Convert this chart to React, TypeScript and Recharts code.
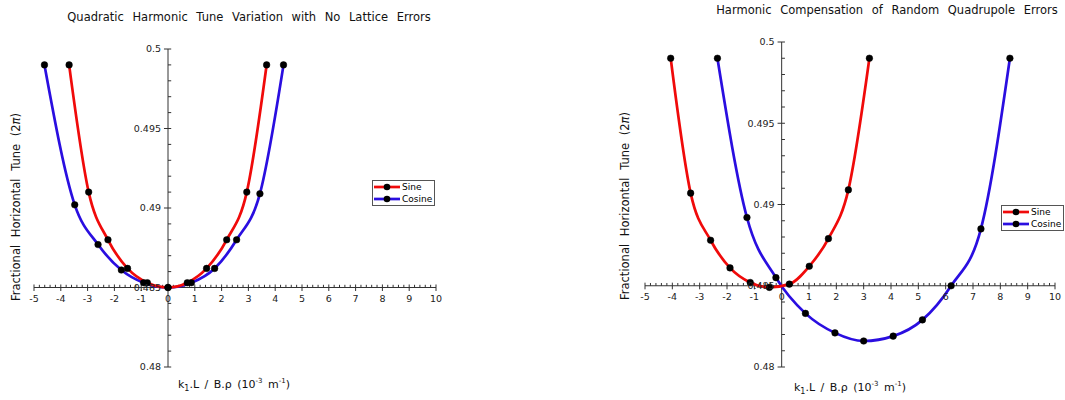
import React from "react";
import {
  LineChart,
  Line,
  XAxis,
  YAxis,
  ReferenceLine,
  ReferenceDot
} from "recharts";

// left panel: no lattice errors
const leftSineX = [-3.69, -2.96, -2.24, -1.51, -0.77, 0, 0.72, 1.44, 2.19, 2.94, 3.68];
const leftSineY = [0.499, 0.491, 0.488, 0.4862, 0.4853, 0.485, 0.4853, 0.4862, 0.488, 0.491, 0.499];
const leftCosX = [-4.61, -3.48, -2.61, -1.74, -0.91, 0, 0.87, 1.74, 2.56, 3.43, 4.31];
const leftCosY = [0.499, 0.4902, 0.4877, 0.4861, 0.4853, 0.485, 0.4853, 0.4862, 0.488, 0.4909, 0.499];

// right panel: random quadrupole errors
const rightSineX = [-4.06, -3.33, -2.6, -1.89, -1.15, -0.45, 0.28, 1.01, 1.71, 2.44, 3.21];
const rightSineY = [0.499, 0.4907, 0.4878, 0.4861, 0.4852, 0.4849, 0.4851, 0.4862, 0.4879, 0.4909, 0.499];
const rightCosX = [-2.35, -1.27, -0.21, 0.87, 1.95, 3.0, 4.08, 5.15, 6.2, 7.29, 8.35];
const rightCosY = [0.499, 0.4892, 0.4855, 0.4833, 0.4821, 0.4816, 0.4819, 0.4829, 0.485, 0.4885, 0.499];

const seriesNames = ["Sine", "Cosine"];
const xTicks = [-5, -4, -3, -2, -1, 0, 1, 2, 3, 4, 5, 6, 7, 8, 9, 10];
const yTicks = [0.48, 0.485, 0.49, 0.495, 0.5];
const yTickLabels = ["0.48", "0.485", "0.49", "0.495", "0.5"];

const X_CROSS = 0;
const Y_CROSS = 0.485;
const RED = "#f00a0a";
const BLUE = "#2a0ee0";
const AXIS = "#333";
const FONT = "'DejaVu Sans', sans-serif";

const toPoints = (xs: number[], ys: number[]) => xs.map((x, i) => ({ x, y: ys[i] }));

const xMinor: number[] = [];
for (let i = 0; i < xTicks.length - 1; i++) {
  for (let k = 1; k < 5; k++) xMinor.push(+(xTicks[i] + k * 0.2).toFixed(2));
}
const yMinor: number[] = [];
for (let i = 0; i < yTicks.length - 1; i++) {
  for (let k = 1; k < 5; k++) yMinor.push(+(yTicks[i] + k * 0.001).toFixed(4));
}

const dotStyle = { r: 3.3, fill: "#000", stroke: "#000", strokeWidth: 0.5 };

type PanelProps = {
  width: number;
  margin: { top: number; right: number; bottom: number; left: number };
  sine: { x: number; y: number }[];
  cosine: { x: number; y: number }[];
};

const Panel = ({ width, margin, sine, cosine }: PanelProps) => (
  <LineChart width={width} height={400} margin={margin}>
    <XAxis dataKey="x" type="number" domain={[-5, 10]} hide allowDataOverflow />
    <YAxis type="number" domain={[0.48, 0.5]} hide allowDataOverflow />
    <ReferenceLine y={Y_CROSS} stroke={AXIS} strokeWidth={1} />
    <ReferenceLine x={X_CROSS} stroke={AXIS} strokeWidth={1} />
    {xTicks.map((v) => (
      <ReferenceLine
        key={`xt${v}`}
        segment={[{ x: v, y: Y_CROSS - 0.00022 }, { x: v, y: Y_CROSS + 0.00019 }]}
        stroke={AXIS}
      />
    ))}
    {xMinor.map((v) => (
      <ReferenceLine
        key={`xm${v}`}
        segment={[{ x: v, y: Y_CROSS }, { x: v, y: Y_CROSS + 0.00017 }]}
        stroke={AXIS}
      />
    ))}
    {yTicks.map((v) => (
      <ReferenceLine
        key={`yt${v}`}
        segment={[{ x: X_CROSS - 0.15, y: v }, { x: X_CROSS + 0.12, y: v }]}
        stroke={AXIS}
      />
    ))}
    {yMinor.map((v) => (
      <ReferenceLine
        key={`ym${v}`}
        segment={[{ x: X_CROSS, y: v }, { x: X_CROSS + 0.12, y: v }]}
        stroke={AXIS}
      />
    ))}
    {xTicks.map((v) => (
      <ReferenceDot
        key={`xl${v}`}
        x={v}
        y={Y_CROSS}
        r={0}
        fill="none"
        stroke="none"
        label={{ value: String(v), position: "bottom", offset: 8, fontSize: 9.5, fill: "#222", fontFamily: FONT }}
      />
    ))}
    {yTicks.map((v, i) => (
      <ReferenceDot
        key={`yl${v}`}
        x={X_CROSS}
        y={v}
        r={0}
        fill="none"
        stroke="none"
        label={{ value: yTickLabels[i], position: "left", offset: 7, fontSize: 9.5, fill: "#222", fontFamily: FONT }}
      />
    ))}
    <Line
      data={cosine}
      dataKey="y"
      type="monotone"
      stroke={BLUE}
      strokeWidth={2.7}
      dot={dotStyle}
      isAnimationActive={false}
    />
    <Line
      data={sine}
      dataKey="y"
      type="monotone"
      stroke={RED}
      strokeWidth={2.7}
      dot={dotStyle}
      isAnimationActive={false}
    />
  </LineChart>
);

const LegendBox = ({ left, top }: { left: number; top: number }) => (
  <div
    style={{
      position: "absolute",
      left,
      top,
      border: "1px solid #555",
      background: "#fff",
      padding: "0px 2px 0px 1px",
      fontFamily: FONT,
      fontSize: 9,
      lineHeight: "12px"
    }}
  >
    {seriesNames.map((name, i) => (
      <div key={name} style={{ display: "flex", alignItems: "center", whiteSpace: "nowrap" }}>
        <svg width={26} height={12} style={{ marginRight: 2 }}>
          <line x1={0} y1={6} x2={26} y2={6} stroke={i === 0 ? RED : BLUE} strokeWidth={2.7} />
          <circle cx={13} cy={6} r={3.3} fill="#000" />
        </svg>
        <span>{name}</span>
      </div>
    ))}
  </div>
);

const textBase: React.CSSProperties = {
  position: "absolute",
  fontFamily: FONT,
  whiteSpace: "nowrap",
  color: "#111"
};

const Title = ({ cx, cy, text }: { cx: number; cy: number; text: string }) => (
  <div
    style={{
      ...textBase,
      left: cx,
      top: cy,
      fontSize: 11.5,
      wordSpacing: 5,
      transform: "translate(-50%, -50%)"
    }}
  >
    {text}
  </div>
);

const YTitle = ({ cx, cy }: { cx: number; cy: number }) => (
  <div
    style={{
      ...textBase,
      left: cx,
      top: cy,
      fontSize: 11.5,
      wordSpacing: 4,
      transform: "translate(-50%, -50%) rotate(-90deg)"
    }}
  >
    Fractional Horizontal Tune (2<i>π</i>)
  </div>
);

const XTitle = ({ cx, cy }: { cx: number; cy: number }) => (
  <div
    style={{
      ...textBase,
      left: cx,
      top: cy,
      fontSize: 11,
      wordSpacing: 2,
      transform: "translate(-50%, -50%)"
    }}
  >
    k<sub style={{ fontSize: 8 }}>1</sub>.L / B.ρ (10<sup style={{ fontSize: 7 }}>-3</sup> m<sup style={{ fontSize: 7 }}>-1</sup>)
  </div>
);

export default function App() {
  return (
    <div style={{ position: "absolute", left: 0, top: 0, width: 1065, height: 400, background: "#fff" }}>
      <div style={{ position: "absolute", left: 0, top: 0 }}>
        <Panel
          width={530}
          margin={{ top: 49, right: 94, bottom: 33, left: 34 }}
          sine={toPoints(leftSineX, leftSineY)}
          cosine={toPoints(leftCosX, leftCosY)}
        />
      </div>
      <div style={{ position: "absolute", left: 590, top: 0 }}>
        <Panel
          width={475}
          margin={{ top: 42, right: 10, bottom: 33, left: 55 }}
          sine={toPoints(rightSineX, rightSineY)}
          cosine={toPoints(rightCosX, rightCosY)}
        />
      </div>
      <Title cx={249} cy={17} text="Quadratic Harmonic Tune Variation with No Lattice Errors" />
      <Title cx={887} cy={10} text="Harmonic Compensation of Random Quadrupole Errors" />
      <YTitle cx={16} cy={207} />
      <YTitle cx={625} cy={206} />
      <XTitle cx={234} cy={385} />
      <XTitle cx={850} cy={388} />
      <LegendBox left={372} top={180} />
      <LegendBox left={1001} top={205} />
    </div>
  );
}
